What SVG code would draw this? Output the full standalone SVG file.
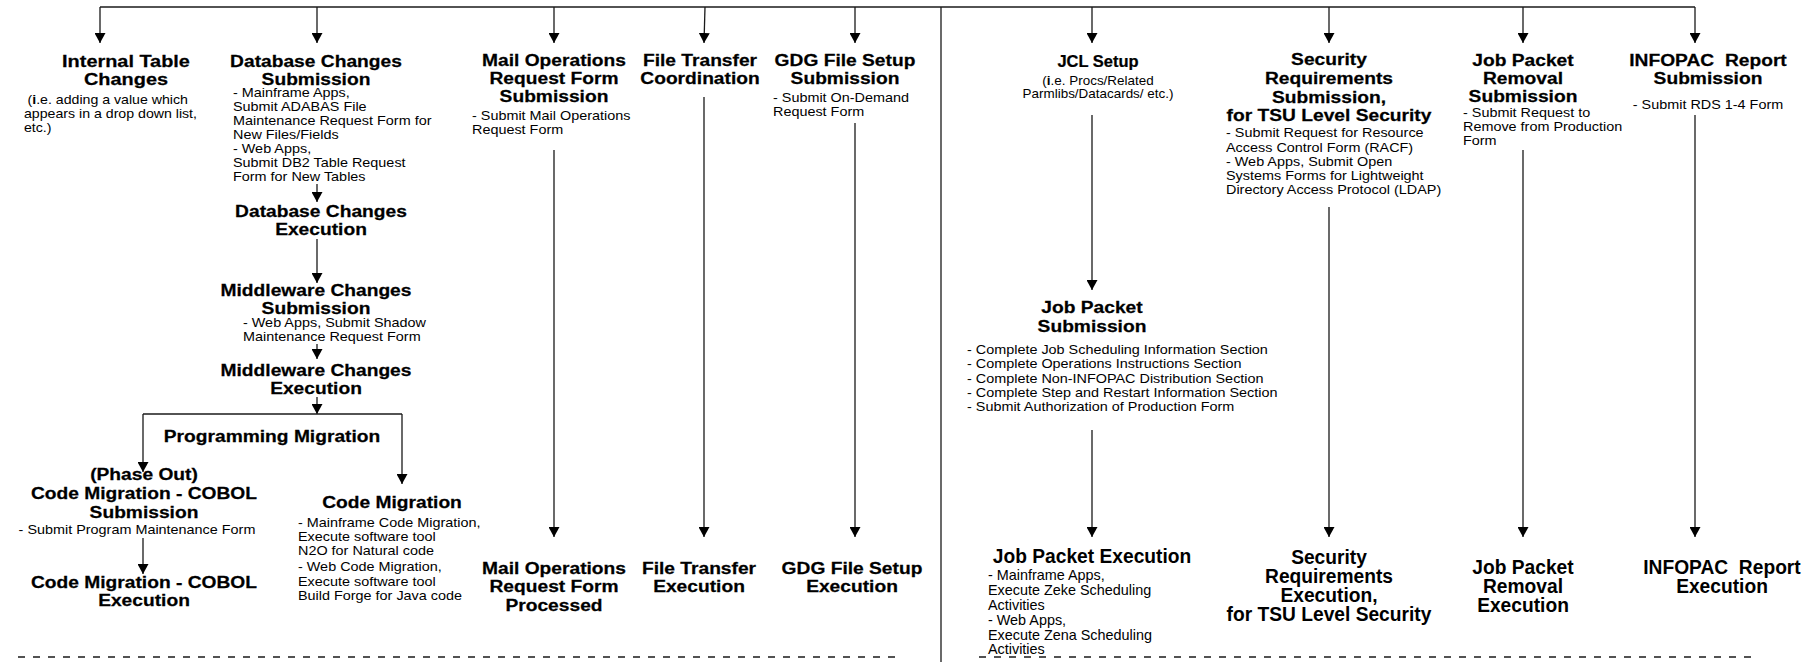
<svg xmlns="http://www.w3.org/2000/svg" width="1806" height="662" viewBox="0 0 1806 662">
<style>
.t{font-family:"Liberation Sans",Arial,sans-serif;font-weight:bold;font-size:17px;text-anchor:middle;fill:#000;stroke:#000;stroke-width:0.25}
.s{font-family:"Liberation Sans",Arial,sans-serif;font-size:12px;fill:#000}
.c{text-anchor:middle}
.tn{font-family:"Liberation Sans",Arial,sans-serif;font-weight:bold;font-size:20px;text-anchor:middle;fill:#000}
.sn{font-family:"Liberation Sans",Arial,sans-serif;font-size:15px;fill:#000}
.pre{white-space:pre}
.ln{fill:none;stroke:#1a1a1a;stroke-width:1.3}
.a{marker-end:url(#ah)}
.d{fill:none;stroke:#1a1a1a;stroke-width:1.3;stroke-dasharray:7 8}
</style>
<defs>
<marker id="ah" viewBox="0 0 10 11" refX="10" refY="5.5" markerWidth="10" markerHeight="11" markerUnits="userSpaceOnUse" orient="auto"><path d="M0,0L10,5.5L0,11z" fill="#000"/></marker>
</defs>
<rect width="1806" height="662" fill="#fff"/>
<g id="connectors">
<path class="ln" d="M100,7H1695"/>
<path class="ln" d="M941,7V662"/>
<path class="ln a" d="M100,7V43"/>
<path class="ln a" d="M317,7V43"/>
<path class="ln a" d="M554,7V43"/>
<path class="ln a" d="M705,7L704,43"/>
<path class="ln a" d="M855,7V43"/>
<path class="ln a" d="M1092,7V43"/>
<path class="ln a" d="M1329,7V43"/>
<path class="ln a" d="M1523,7V43"/>
<path class="ln a" d="M1695,7V43"/>
<path class="ln a" d="M317,184V202"/>
<path class="ln a" d="M317,239V283"/>
<path class="ln a" d="M317,344V359"/>
<path class="ln a" d="M317,397V414"/>
<path class="ln" d="M143,414H402"/>
<path class="ln a" d="M143,414V472"/>
<path class="ln a" d="M402,414V484"/>
<path class="ln a" d="M143,538V574"/>
<path class="ln a" d="M554,150V537"/>
<path class="ln a" d="M704,97V537"/>
<path class="ln a" d="M855,123V537"/>
<path class="ln a" d="M1092,115V290"/>
<path class="ln a" d="M1092,430V537"/>
<path class="ln a" d="M1329,207V537"/>
<path class="ln a" d="M1523,150V537"/>
<path class="ln a" d="M1695,115V537"/>
</g>
<g id="separators">
<path class="d" d="M18,657H895"/>
<path class="d" d="M979,657H1756"/>
</g>
<g id="n1">
<g transform="translate(126 0) scale(1.17 1)"><text class="t" y="67">Internal Table</text><text class="t" y="85">Changes</text></g>
<g transform="translate(24 0) scale(1.18 1)"><text class="s" x="3" y="104">(<tspan font-weight="bold">i</tspan>.e. adding a value which</text><text class="s" y="118">appears in a drop down list,</text><text class="s" y="132">etc.)</text></g>
</g>
<g id="n2">
<g transform="translate(316 0) scale(1.13 1)"><text class="t" y="67">Database Changes</text><text class="t" y="85">Submission</text></g>
<g transform="translate(233 0) scale(1.2 1)"><text class="s" y="97">- Mainframe Apps,</text><text class="s" y="111">Submit ADABAS File</text><text class="s" y="125">Maintenance Request Form for</text><text class="s" y="139">New Files/Fields</text><text class="s" y="153">- Web Apps,</text><text class="s" y="167">Submit DB2 Table Request</text><text class="s" y="181">Form for New Tables</text></g>
</g>
<g id="n3">
<g transform="translate(321 0) scale(1.13 1)"><text class="t" y="217">Database Changes</text><text class="t" y="235">Execution</text></g>
</g>
<g id="n4">
<g transform="translate(316 0) scale(1.13 1)"><text class="t" y="296">Middleware Changes</text><text class="t" y="314">Submission</text></g>
<g transform="translate(243 0) scale(1.2 1)"><text class="s" y="327">- Web Apps, Submit Shadow</text><text class="s" y="341">Maintenance Request Form</text></g>
</g>
<g id="n5">
<g transform="translate(316 0) scale(1.13 1)"><text class="t" y="376">Middleware Changes</text><text class="t" y="394">Execution</text></g>
</g>
<g id="pm">
<g transform="translate(272 0) scale(1.13 1)"><text class="t" y="442">Programming Migration</text></g>
</g>
<g id="n6">
<g transform="translate(144 0) scale(1.13 1)"><text class="t" y="480">(Phase Out)</text><text class="t" y="499">Code Migration - COBOL</text><text class="t" y="518">Submission</text></g>
<g transform="translate(137 0) scale(1.2 1)"><text class="s c" y="534">- Submit Program Maintenance Form</text></g>
</g>
<g id="n7">
<g transform="translate(144 0) scale(1.13 1)"><text class="t" y="588">Code Migration - COBOL</text><text class="t" y="606">Execution</text></g>
</g>
<g id="n8">
<g transform="translate(392 0) scale(1.13 1)"><text class="t" y="508">Code Migration</text></g>
<g transform="translate(298 0) scale(1.2 1)"><text class="s" y="527">- Mainframe Code Migration,</text><text class="s" y="541">Execute software tool</text><text class="s" y="555">N2O for Natural code</text><text class="s" y="571">- Web Code Migration,</text><text class="s" y="586">Execute software tool</text><text class="s" y="600">Build Forge for Java code</text></g>
</g>
<g id="n9">
<g transform="translate(554 0) scale(1.13 1)"><text class="t" y="66">Mail Operations</text><text class="t" y="84">Request Form</text><text class="t" y="102">Submission</text></g>
<g transform="translate(472 0) scale(1.2 1)"><text class="s" y="120">- Submit Mail Operations</text><text class="s" y="134">Request Form</text></g>
</g>
<g id="n10">
<g transform="translate(554 0) scale(1.13 1)"><text class="t" y="574">Mail Operations</text><text class="t" y="592">Request Form</text><text class="t" y="611">Processed</text></g>
</g>
<g id="n11">
<g transform="translate(700 0) scale(1.13 1)"><text class="t" y="66">File Transfer</text><text class="t" y="84">Coordination</text></g>
</g>
<g id="n12">
<g transform="translate(699 0) scale(1.13 1)"><text class="t" y="574">File Transfer</text><text class="t" y="592">Execution</text></g>
</g>
<g id="n13">
<g transform="translate(845 0) scale(1.13 1)"><text class="t" y="66">GDG File Setup</text><text class="t" y="84">Submission</text></g>
<g transform="translate(773 0) scale(1.2 1)"><text class="s" y="102">- Submit On-Demand</text><text class="s" y="116">Request Form</text></g>
</g>
<g id="n14">
<g transform="translate(852 0) scale(1.13 1)"><text class="t" y="574">GDG File Setup</text><text class="t" y="592">Execution</text></g>
</g>
<g id="n15">
<g transform="translate(1098 0) scale(0.97 1)"><text class="t" y="67">JCL Setup</text></g>
<g transform="translate(1098 0) scale(1.12 1)"><text class="s c" y="85">(<tspan font-weight="bold">i</tspan>.e. Procs/Related</text><text class="s c" y="98">Parmlibs/Datacards/ etc.)</text></g>
</g>
<g id="n16">
<g transform="translate(1092 0) scale(1.13 1)"><text class="t" y="313">Job Packet</text><text class="t" y="332">Submission</text></g>
<g transform="translate(967 0) scale(1.2 1)"><text class="s" y="354">- Complete Job Scheduling Information Section</text><text class="s" y="368">- Complete Operations Instructions Section</text><text class="s" y="383">- Complete Non-INFOPAC Distribution Section</text><text class="s" y="397">- Complete Step and Restart Information Section</text><text class="s" y="411">- Submit Authorization of Production Form</text></g>
</g>
<g id="n17">
<g transform="translate(1092 0) scale(0.96 1)"><text class="tn" y="563">Job Packet Execution</text></g>
<g transform="translate(988 0) scale(0.96 1)"><text class="sn" y="580">- Mainframe Apps,</text><text class="sn" y="595">Execute Zeke Scheduling</text><text class="sn" y="610">Activities</text><text class="sn" y="625">- Web Apps,</text><text class="sn" y="640">Execute Zena Scheduling</text><text class="sn" y="654">Activities</text></g>
</g>
<g id="n18">
<g transform="translate(1329 0) scale(1.13 1)"><text class="t" y="65">Security</text><text class="t" y="84">Requirements</text><text class="t" y="103">Submission,</text><text class="t" y="121">for TSU Level Security</text></g>
<g transform="translate(1226 0) scale(1.2 1)"><text class="s" y="137">- Submit Request for Resource</text><text class="s" y="152">Access Control Form (RACF)</text><text class="s" y="166">- Web Apps, Submit Open</text><text class="s" y="180">Systems Forms for Lightweight</text><text class="s" y="194">Directory Access Protocol (LDAP)</text></g>
</g>
<g id="n19">
<g transform="translate(1329 0) scale(0.96 1)"><text class="tn" y="564">Security</text><text class="tn" y="583">Requirements</text><text class="tn" y="602">Execution,</text><text class="tn" y="621">for TSU Level Security</text></g>
</g>
<g id="n20">
<g transform="translate(1523 0) scale(1.13 1)"><text class="t" y="66">Job Packet</text><text class="t" y="84">Removal</text><text class="t" y="102">Submission</text></g>
<g transform="translate(1463 0) scale(1.2 1)"><text class="s" y="117">- Submit Request to</text><text class="s" y="131">Remove from Production</text><text class="s" y="145">Form</text></g>
</g>
<g id="n21">
<g transform="translate(1523 0) scale(0.96 1)"><text class="tn" y="574">Job Packet</text><text class="tn" y="593">Removal</text><text class="tn" y="612">Execution</text></g>
</g>
<g id="n22">
<g transform="translate(1708 0) scale(1.13 1)"><text class="t pre" y="66">INFOPAC  Report</text><text class="t" y="84">Submission</text></g>
<g transform="translate(1708 0) scale(1.2 1)"><text class="s c" y="109">- Submit RDS 1-4 Form</text></g>
</g>
<g id="n23">
<g transform="translate(1722 0) scale(0.96 1)"><text class="tn pre" y="574">INFOPAC  Report</text><text class="tn" y="593">Execution</text></g>
</g>
</svg>
